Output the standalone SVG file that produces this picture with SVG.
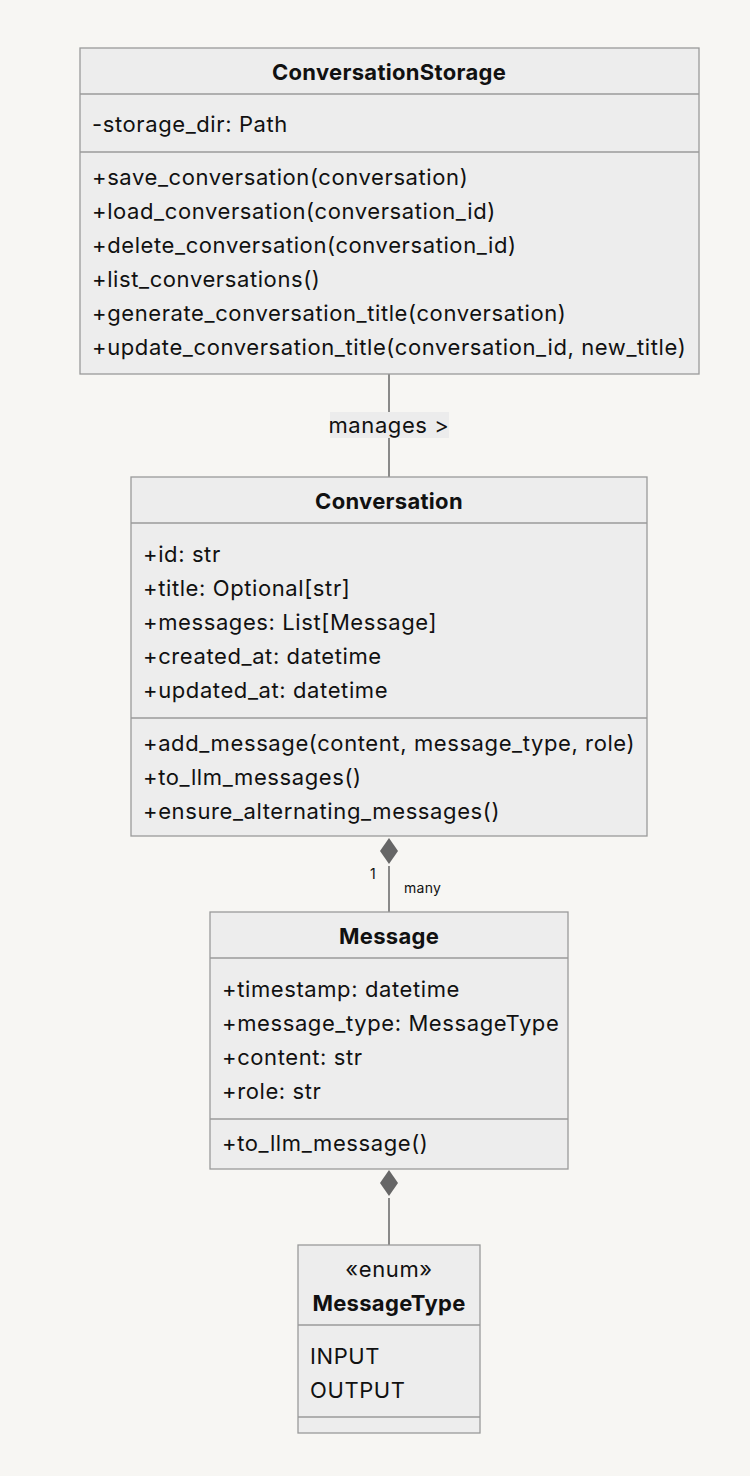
<svg xmlns="http://www.w3.org/2000/svg" width="750" height="1476" viewBox="0 0 750 1476">
<style>
.box{fill:#ededed;stroke:#9a9a9a;stroke-width:1.3}
.ln{stroke:#9a9a9a;stroke-width:1.3}
text{font-family:Inter,"Liberation Sans",sans-serif;fill:#111;font-size:22px;letter-spacing:0.6px}
.b{font-weight:bold;text-anchor:middle;letter-spacing:0.3px}
.c{text-anchor:middle}
.s{font-size:14px;letter-spacing:0.3px}
.e{stroke:#666;stroke-width:1.5;fill:none}
</style>
<rect width="750" height="1476" fill="#f7f6f3"/>
<g id="edges">
<path class="e" d="M389 374V477"/>
<rect x="330" y="412" width="119" height="26" fill="#ececec"/>
<text x="389" y="433" class="c">manages &gt;</text>
<path class="e" d="M389 866V912"/>
<path d="M389 838l-9 13 9 13 9-13z" fill="#666"/>
<text x="370" y="879" class="s">1</text>
<text x="404" y="893" class="s">many</text>
<path class="e" d="M389 1198V1245"/>
<path d="M389 1170l-9 13 9 13 9-13z" fill="#666"/>
</g>
<g id="ConversationStorage">
<rect class="box" x="80" y="48" width="619" height="326"/>
<line class="ln" x1="80" y1="94" x2="699" y2="94"/><line class="ln" x1="80" y1="152" x2="699" y2="152"/>
<text x="389" y="80" class="b">ConversationStorage</text>
<text x="92" y="132">-storage_dir: Path</text>
<text x="92" y="185">+save_conversation(conversation)</text>
<text x="92" y="219">+load_conversation(conversation_id)</text>
<text x="92" y="253">+delete_conversation(conversation_id)</text>
<text x="92" y="287">+list_conversations()</text>
<text x="92" y="321">+generate_conversation_title(conversation)</text>
<text x="92" y="355">+update_conversation_title(conversation_id, new_title)</text>
</g>
<g id="Conversation">
<rect class="box" x="131" y="477" width="516" height="359"/>
<line class="ln" x1="131" y1="523" x2="647" y2="523"/><line class="ln" x1="131" y1="718" x2="647" y2="718"/>
<text x="389" y="509" class="b">Conversation</text>
<text x="143" y="562">+id: str</text>
<text x="143" y="596">+title: Optional[str]</text>
<text x="143" y="630">+messages: List[Message]</text>
<text x="143" y="664">+created_at: datetime</text>
<text x="143" y="698">+updated_at: datetime</text>
<text x="143" y="751">+add_message(content, message_type, role)</text>
<text x="143" y="785">+to_llm_messages()</text>
<text x="143" y="819">+ensure_alternating_messages()</text>
</g>
<g id="Message">
<rect class="box" x="210" y="912" width="358" height="257"/>
<line class="ln" x1="210" y1="958" x2="568" y2="958"/><line class="ln" x1="210" y1="1119" x2="568" y2="1119"/>
<text x="389" y="944" class="b">Message</text>
<text x="222" y="997">+timestamp: datetime</text>
<text x="222" y="1031">+message_type: MessageType</text>
<text x="222" y="1065">+content: str</text>
<text x="222" y="1099">+role: str</text>
<text x="222" y="1151">+to_llm_message()</text>
</g>
<g id="MessageType">
<rect class="box" x="298" y="1245" width="182" height="188"/>
<line class="ln" x1="298" y1="1325" x2="480" y2="1325"/><line class="ln" x1="298" y1="1417" x2="480" y2="1417"/>
<text x="389" y="1277" class="c">«enum»</text>
<text x="389" y="1311" class="b">MessageType</text>
<text x="310" y="1364">INPUT</text>
<text x="310" y="1398">OUTPUT</text>
</g>
</svg>
